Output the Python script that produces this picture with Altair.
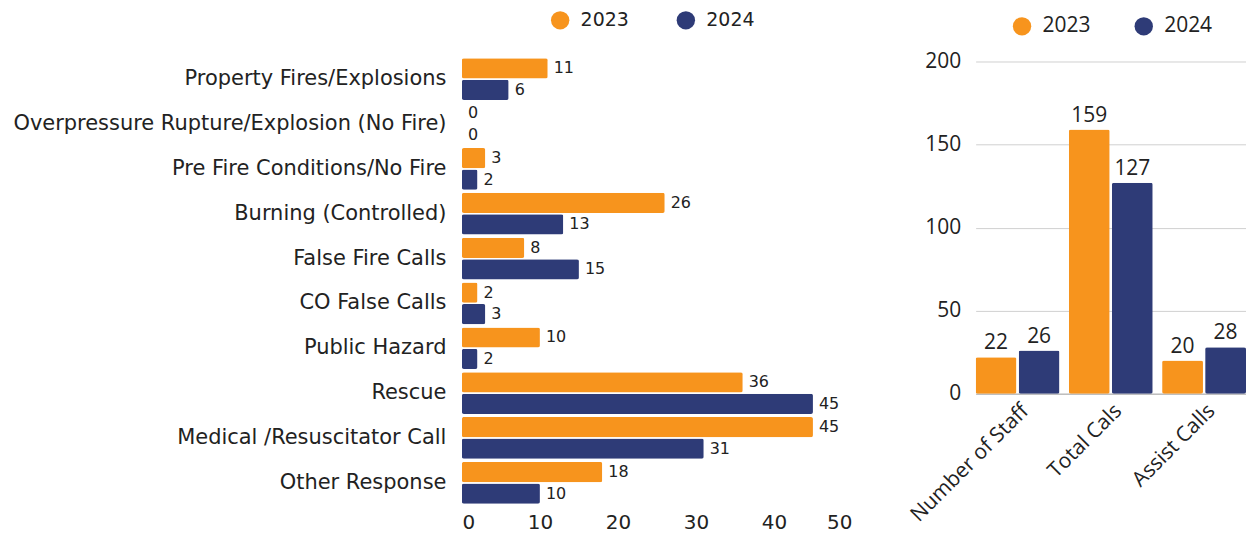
import altair as alt
import pandas as pd

categories = ["Property Fires/Explosions", "Overpressure Rupture/Explosion (No Fire)",
              "Pre Fire Conditions/No Fire", "Burning (Controlled)", "False Fire Calls",
              "CO False Calls", "Public Hazard", "Rescue", "Medical /Resuscitator Call",
              "Other Response"]
calls_2023 = [11, 0, 3, 26, 8, 2, 10, 36, 45, 18]
calls_2024 = [6, 0, 2, 13, 15, 3, 2, 45, 31, 10]

summary_cats = ["Number of Staff", "Total Cals", "Assist Calls"]
summary_2023 = [22, 159, 20]
summary_2024 = [26, 127, 28]

years = ["2023", "2024"]
colors = ["#F7941D", "#2E3B77"]
LFONT = "DejaVu Sans"
RFONT = "Open Sans"
TXT = "#222222"

left_df = pd.DataFrame(
    [{"cat": c, "year": "2023", "value": v} for c, v in zip(categories, calls_2023)] +
    [{"cat": c, "year": "2024", "value": v} for c, v in zip(categories, calls_2024)]
)
right_df = pd.DataFrame(
    [{"cat": c, "year": "2023", "value": v} for c, v in zip(summary_cats, summary_2023)] +
    [{"cat": c, "year": "2024", "value": v} for c, v in zip(summary_cats, summary_2024)]
)

color_scale = alt.Scale(domain=years, range=colors)

left_base = alt.Chart(left_df).encode(
    y=alt.Y("cat:N", sort=categories, title=None,
            scale=alt.Scale(paddingInner=0.07, paddingOuter=0.04),
            axis=alt.Axis(domain=False, ticks=False, labelFontSize=21, labelFont=LFONT,
                          labelColor=TXT, labelPadding=16, labelLimit=600)),
    yOffset=alt.YOffset("year:N", sort=years, scale=alt.Scale(paddingInner=0.06)),
)
left_bars = left_base.mark_bar(cornerRadius=2).encode(
    x=alt.X("value:Q", title=None, scale=alt.Scale(domain=[0, 50], nice=False),
            axis=alt.Axis(values=[0, 10, 20, 30, 40, 50], grid=False, domain=False, ticks=False,
                          labelFontSize=20, labelFont=LFONT, labelColor=TXT, labelPadding=7)),
    color=alt.Color("year:N", scale=color_scale, title=None,
                    legend=alt.Legend(orient="none", legendX=89, legendY=-46, direction="horizontal",
                                      symbolType="circle", symbolSize=340, symbolStrokeWidth=0,
                                      labelFontSize=19, labelFont=LFONT, labelColor=TXT,
                                      labelOffset=11, columnPadding=47)),
)
left_text = left_base.mark_text(align="left", baseline="middle", dx=6, fontSize=16,
                                font=LFONT, color=TXT).encode(
    x=alt.X("value:Q"),
    text=alt.Text("value:Q"),
)
left = alt.layer(left_bars, left_text).properties(width=391, height=450)

# right plot area spans 338 px; top gridline (200) sits 5 px below the top
right_ymax = 200 * 338 / 333

right_base = alt.Chart(right_df).encode(
    x=alt.X("cat:N", sort=summary_cats, title=None,
            scale=alt.Scale(paddingInner=0.1, paddingOuter=0),
            axis=alt.Axis(domain=True, domainColor="#b0b0b0", ticks=False, labelAngle=-45,
                          labelAlign="right", labelBaseline="top", labelPadding=6,
                          labelFontSize=21, labelFont=RFONT, labelColor=TXT)),
    xOffset=alt.XOffset("year:N", sort=years, scale=alt.Scale(paddingInner=0.05)),
)
right_bars = right_base.mark_bar(cornerRadius=2).encode(
    y=alt.Y("value:Q", title=None, scale=alt.Scale(domain=[0, right_ymax], nice=False),
            axis=alt.Axis(values=[0, 50, 100, 150, 200], grid=True, gridColor="#d0d0d0",
                          domain=False, ticks=False, labelFontSize=21, labelFont=RFONT,
                          labelColor=TXT, labelPadding=15)),
    color=alt.Color("year:N", scale=color_scale, title=None,
                    legend=alt.Legend(orient="none", legendX=36, legendY=-41, direction="horizontal",
                                      symbolType="circle", symbolSize=340, symbolStrokeWidth=0,
                                      labelFontSize=21, labelFont=RFONT, labelColor=TXT,
                                      labelOffset=10, columnPadding=42)),
)
right_text = right_base.mark_text(align="center", baseline="bottom", dy=-4, fontSize=21,
                                  font=RFONT, color=TXT).encode(
    y=alt.Y("value:Q"),
    text=alt.Text("value:Q"),
)
right = alt.layer(right_bars, right_text).properties(width=271, height=338)

chart = alt.hconcat(left, right, spacing=54).resolve_scale(color="independent").resolve_legend(
    color="independent").configure_view(stroke=None).properties(
    padding={"left": 4, "top": 2, "right": 0, "bottom": 0})

chart.save("out.html", embed_options={"renderer": "svg", "actions": False})
